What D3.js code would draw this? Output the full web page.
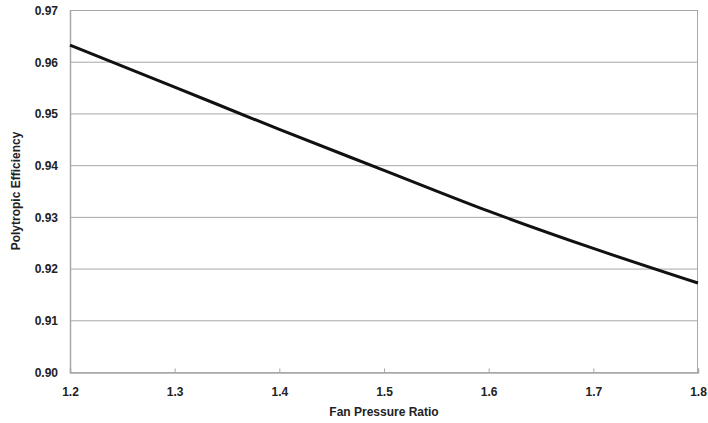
<!DOCTYPE html>
<html>
<head>
<meta charset="utf-8">
<script src="https://cdnjs.cloudflare.com/ajax/libs/d3/7.8.5/d3.min.js"></script>
<style>
  html, body { margin: 0; padding: 0; background: #fff; }
  svg { display: block; }
  text { font-family: "Liberation Sans", Arial, sans-serif; font-weight: bold; fill: #222; }
</style>
</head>
<body>
<svg id="chart" width="708" height="423"></svg>
<script>
// Fan pressure ratio vs. polytropic efficiency
const pressureRatio = [1.2, 1.3, 1.4, 1.5, 1.6, 1.7, 1.8];
const efficiency = [0.9632, 0.9551, 0.9469, 0.9390, 0.9311, 0.9239, 0.9172];
const xTicks = [1.2, 1.3, 1.4, 1.5, 1.6, 1.7, 1.8];
const yTicks = [0.90, 0.91, 0.92, 0.93, 0.94, 0.95, 0.96, 0.97];

const margin = { top: 10, right: 10, bottom: 51, left: 70 };
const W = 708, H = 423;
const svg = d3.select("#chart");

const x = d3.scaleLinear().domain([1.2, 1.8]).range([margin.left, W - margin.right]);
const y = d3.scaleLinear().domain([0.90, 0.97]).range([H - margin.bottom, margin.top]);

const gridColor = "#a8a8a8";

// horizontal gridlines
svg.append("g")
  .selectAll("line")
  .data(yTicks)
  .join("line")
  .attr("x1", x(1.2)).attr("x2", x(1.8))
  .attr("y1", d => y(d) + 0.5).attr("y2", d => y(d) + 0.5)
  .attr("stroke", gridColor).attr("stroke-width", 1);

// left and right frame lines
svg.append("line")
  .attr("x1", x(1.2) + 0.5).attr("x2", x(1.2) + 0.5)
  .attr("y1", y(0.97)).attr("y2", y(0.90) + 1)
  .attr("stroke", gridColor).attr("stroke-width", 1.5);
svg.append("line")
  .attr("x1", x(1.8) - 0.5).attr("x2", x(1.8) - 0.5)
  .attr("y1", y(0.97)).attr("y2", y(0.90) + 1)
  .attr("stroke", gridColor).attr("stroke-width", 1);

// x axis: baseline, small inward ticks, labels
const xAxis = d3.axisBottom(x).tickValues(xTicks).tickFormat(d3.format(".1f")).tickSize(-4).tickPadding(15);
const gx = svg.append("g").attr("transform", `translate(0,${y(0.90) + 0.5})`).call(xAxis);
gx.select(".domain").attr("stroke", gridColor).attr("stroke-width", 1.5);
gx.selectAll(".tick line").attr("stroke", gridColor);
gx.selectAll(".tick text")
  .style("font-family", "'Liberation Sans', Arial, sans-serif")
  .style("font-weight", "bold").style("font-size", "12px").attr("fill", "#222");

// y axis labels
const yAxis = d3.axisLeft(y).tickValues(yTicks).tickFormat(d3.format(".2f")).tickSize(0).tickPadding(12);
const gy = svg.append("g").attr("transform", `translate(${x(1.2)},0.5)`).call(yAxis);
gy.select(".domain").remove();
gy.selectAll(".tick text")
  .style("font-family", "'Liberation Sans', Arial, sans-serif")
  .style("font-weight", "bold").style("font-size", "12px").attr("fill", "#222");

// efficiency curve
const line = d3.line()
  .x((d, i) => x(pressureRatio[i]))
  .y(d => y(d))
  .curve(d3.curveMonotoneX);
svg.append("path")
  .datum(efficiency)
  .attr("d", line)
  .attr("fill", "none")
  .attr("stroke", "#111")
  .attr("stroke-width", 3);

// axis titles
svg.append("text")
  .attr("x", (x(1.2) + x(1.8)) / 2).attr("y", 416)
  .attr("text-anchor", "middle")
  .style("font-size", "12px")
  .text("Fan Pressure Ratio");
svg.append("text")
  .attr("transform", `translate(20,${(y(0.90) + y(0.97)) / 2}) rotate(-90)`)
  .attr("text-anchor", "middle")
  .style("font-size", "12px")
  .text("Polytropic Efficiency");
</script>
</body>
</html>
